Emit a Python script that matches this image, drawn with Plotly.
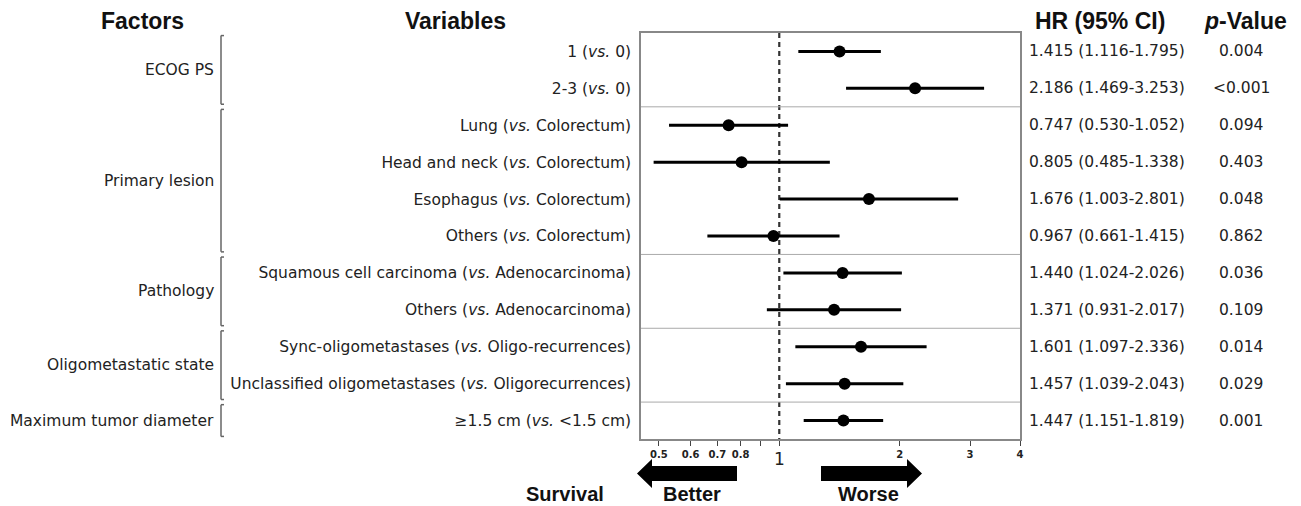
import numpy as np
import plotly.graph_objects as go

# ---------------- data ----------------
factors = ["ECOG PS", "Primary lesion", "Pathology", "Oligometastatic state", "Maximum tumor diameter"]
factor_rows = [(0, 1), (2, 5), (6, 7), (8, 9), (10, 10)]
variables = [
    "1 (<i>vs.</i> 0)",
    "2-3 (<i>vs.</i> 0)",
    "Lung (<i>vs.</i> Colorectum)",
    "Head and neck (<i>vs.</i> Colorectum)",
    "Esophagus (<i>vs.</i> Colorectum)",
    "Others (<i>vs.</i> Colorectum)",
    "Squamous cell carcinoma (<i>vs.</i> Adenocarcinoma)",
    "Others (<i>vs.</i> Adenocarcinoma)",
    "Sync-oligometastases (<i>vs.</i> Oligo-recurrences)",
    "Unclassified oligometastases (<i>vs.</i> Oligorecurrences)",
    "\u22651.5 cm (<i>vs.</i> <1.5 cm)",
]
hr = [1.415, 2.186, 0.747, 0.805, 1.676, 0.967, 1.440, 1.371, 1.601, 1.457, 1.447]
ci_low = [1.116, 1.469, 0.530, 0.485, 1.003, 0.661, 1.024, 0.931, 1.097, 1.039, 1.151]
ci_high = [1.795, 3.253, 1.052, 1.338, 2.801, 1.415, 2.026, 2.017, 2.336, 2.043, 1.819]
p_values = ["0.004", "<0.001", "0.094", "0.403", "0.048", "0.862", "0.036", "0.109", "0.014", "0.029", "0.001"]
tick_vals = [0.5, 0.6, 0.7, 0.8, 0.9, 1, 2, 3, 4]
tick_text = ["0.5", "0.6", "0.7", "0.8", "", "", "2", "3", "4"]

# ---------------- layout geometry ----------------
W, H = 1301, 506
L, R, T, B = 641, 1020, 33, 439


def xp(px):
    return (px - L) / (R - L)


def yp(py):
    return (B - py) / (B - T)


rows = list(range(len(hr)))
TXT = "DejaVu Sans"
HDR = "Liberation Sans"
FS = 15.5

fig = go.Figure()

# reference line at HR = 1
fig.add_trace(go.Scatter(
    x=[1, 1], y=[-0.5, len(hr) - 0.5], mode="lines",
    line=dict(color="#333333", width=2.2, dash="5px,4px"),
    hoverinfo="skip", showlegend=False))

# HR points with CI
fig.add_trace(go.Scatter(
    x=hr, y=rows, mode="markers",
    marker=dict(color="black", size=12),
    error_x=dict(type="data", symmetric=False,
                 array=[h - m for h, m in zip(ci_high, hr)],
                 arrayminus=[m - l for m, l in zip(hr, ci_low)],
                 color="black", thickness=3, width=0),
    showlegend=False))

annotations = []
shapes = []

# HR text and p-values
for i in rows:
    annotations.append(dict(
        x=xp(1027), xref="paper", y=i, yref="y", xanchor="left", yanchor="middle",
        text=f"{hr[i]:.3f} ({ci_low[i]:.3f}-{ci_high[i]:.3f})", showarrow=False,
        font=dict(family=TXT, size=FS, color="#222222")))
    annotations.append(dict(
        x=xp(1241), xref="paper", y=i, yref="y", xanchor="center", yanchor="middle",
        text=p_values[i].replace("<", "&lt;"), showarrow=False,
        font=dict(family=TXT, size=FS, color="#222222")))

# separators between factor groups
for (a, b) in factor_rows[:-1]:
    shapes.append(dict(type="line", xref="paper", yref="y", x0=0, x1=1,
                       y0=b + 0.5, y1=b + 0.5, line=dict(color="#aaaaaa", width=1)))

# factor labels and brackets
for name, (a, b) in zip(factors, factor_rows):
    annotations.append(dict(
        x=xp(216), xref="paper", y=(a + b) / 2, yref="y", xanchor="right", yanchor="middle",
        text=name, showarrow=False, font=dict(family=TXT, size=FS, color="#222222")))
    y0 = a - 0.5 + 0.07
    y1 = b + 0.5 - 0.07
    bx = xp(221)
    tx = xp(224)
    shapes.append(dict(type="line", xref="paper", yref="y", x0=bx, x1=bx, y0=y0, y1=y1,
                       line=dict(color="#666666", width=1.5)))
    shapes.append(dict(type="line", xref="paper", yref="y", x0=bx, x1=tx, y0=y0, y1=y0,
                       line=dict(color="#666666", width=1.5)))
    shapes.append(dict(type="line", xref="paper", yref="y", x0=bx, x1=tx, y0=y1, y1=y1,
                       line=dict(color="#666666", width=1.5)))

# headers
for txt, cx in [("Factors", 143), ("Variables", 455), ("HR (95% CI)", 1100), ("<i>p</i>-Value", 1245)]:
    annotations.append(dict(
        x=xp(cx), xref="paper", y=yp(21), yref="paper", xanchor="center", yanchor="middle",
        text=f"<b>{txt}</b>", showarrow=False, font=dict(family=HDR, size=23, color="#111111")))

# big "1" tick label
annotations.append(dict(
    x=np.log10(1), xref="x", y=yp(459), yref="paper", xanchor="center", yanchor="middle",
    text="1", showarrow=False, font=dict(family=TXT, size=17, color="#222222")))

# arrows
cy = 473.5
left_arrow = [(637, cy), (652, 459), (652, 466), (737, 466), (737, 481), (652, 481), (652, 488)]
right_arrow = [(922, cy), (907, 459), (907, 466), (821, 466), (821, 481), (907, 481), (907, 488)]
for pts in (left_arrow, right_arrow):
    path = "M " + " L ".join(f"{xp(x):.5f},{yp(y):.5f}" for x, y in pts) + " Z"
    shapes.append(dict(type="path", xref="paper", yref="paper", path=path,
                       fillcolor="black", line=dict(color="black", width=0)))

for txt, cx in [("Survival", 565), ("Better", 692), ("Worse", 868)]:
    annotations.append(dict(
        x=xp(cx), xref="paper", y=yp(494), yref="paper", xanchor="center", yanchor="middle",
        text=f"<b>{txt}</b>", showarrow=False, font=dict(family=HDR, size=20, color="#111111")))

fig.update_layout(
    width=W, height=H,
    margin=dict(l=L, r=W - R, t=T, b=H - B, pad=0),
    paper_bgcolor="white", plot_bgcolor="white",
    showlegend=False,
    annotations=annotations, shapes=shapes,
    xaxis=dict(type="log", range=[np.log10(0.451), np.log10(4)],
               tickvals=tick_vals, ticktext=tick_text,
               ticks="outside", ticklen=5, tickcolor="#444444", tickwidth=1,
               tickfont=dict(family=TXT, size=10, color="#222222", weight="bold"),
               showgrid=False, zeroline=False,
               showline=True, mirror=True, linecolor="#888888", linewidth=1.5),
    yaxis=dict(range=[len(hr) - 0.5, -0.5], tickvals=rows, ticktext=variables,
               ticks="", ticklabelstandoff=5,
               tickfont=dict(family=TXT, size=FS, color="#222222"),
               showgrid=False, zeroline=False,
               showline=True, mirror=True, linecolor="#888888", linewidth=1.5),
)

fig.write_html(
    "out.html",
    config={"displayModeBar": False},
    post_script="document.body.style.margin='0';document.body.style.overflow='hidden';",
)
